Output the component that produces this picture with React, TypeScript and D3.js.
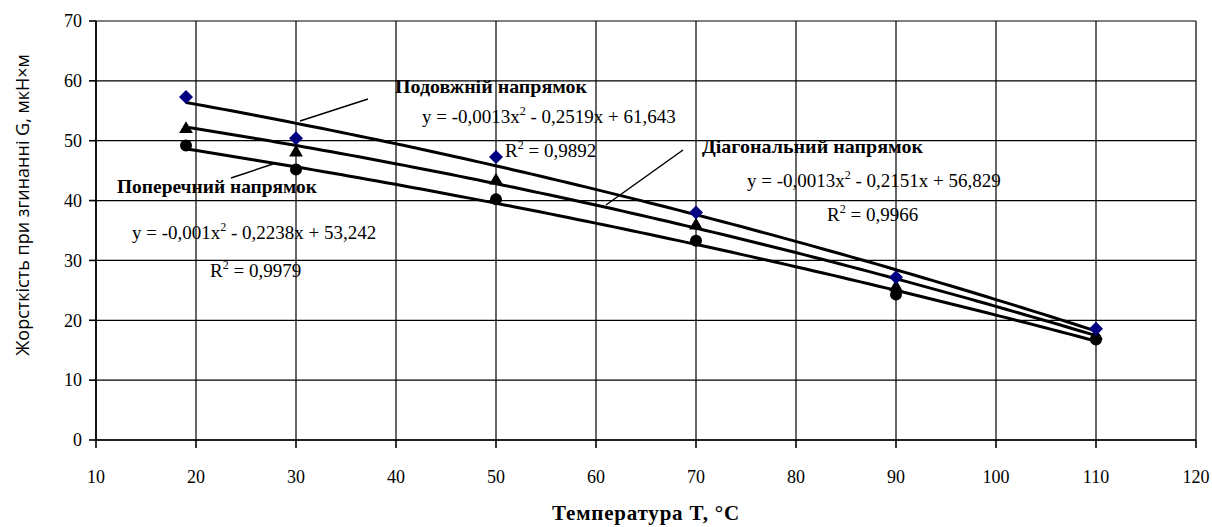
import React from "react";
import * as d3 from "d3";

const temps = [19, 30, 50, 70, 90, 110];
const longitudinal = [57.3, 50.4, 47.3, 38.0, 27.2, 18.6];
const diagonal = [52.1, 48.2, 43.5, 36.0, 25.7, 17.6];
const transverse = [49.2, 45.2, 40.2, 33.3, 24.3, 16.8];

// trendline coefficients [a, b, c] from the chart labels: y = a x^2 + b x + c
const longCoef = [-0.0013, -0.2519, 61.643];
const diagCoef = [-0.0013, -0.2151, 56.829];
const transCoef = [-0.001, -0.2238, 53.242];

const xTicks = [10, 20, 30, 40, 50, 60, 70, 80, 90, 100, 110, 120];
const yTicks = [0, 10, 20, 30, 40, 50, 60, 70];

const W = 1212;
const H = 527;
const serif = "'Liberation Serif', 'Times New Roman', serif";

export default function App() {
  const x = d3.scaleLinear().domain([10, 120]).range([96, 1196]);
  const y = d3.scaleLinear().domain([0, 70]).range([440, 21]);

  const trend = (c: number[]) => {
    const pts: [number, number][] = [];
    const x0 = temps[0];
    const x1 = temps[temps.length - 1];
    for (let i = 0; i <= 100; i++) {
      const t = x0 + ((x1 - x0) * i) / 100;
      pts.push([t, c[0] * t * t + c[1] * t + c[2]]);
    }
    return d3.line<[number, number]>().x((d) => x(d[0])).y((d) => y(d[1]))(pts) || "";
  };

  const eq = (a: string, rest: string, px: number, py: number) => (
    <text x={px} y={py} fontFamily={serif} fontSize={19} fill="#000">
      {a}
      <tspan dy={-8} fontSize={12}>2</tspan>
      <tspan dy={8}>{rest}</tspan>
    </text>
  );
  const r2 = (v: string, px: number, py: number) => (
    <text x={px} y={py} fontFamily={serif} fontSize={19} fill="#000">
      R<tspan dy={-8} fontSize={12}>2</tspan>
      <tspan dy={8}>{" = " + v}</tspan>
    </text>
  );

  const triangle = d3.symbol().type(d3.symbolTriangle).size(82)() || "";

  return (
    <svg
      width={W}
      height={H}
      style={{ position: "absolute", left: 0, top: 0, background: "#fff" }}
    >
      <rect x={0} y={0} width={W} height={H} fill="#fff" />
      {/* grid */}
      {yTicks.map((t) => (
        <line key={"gy" + t} x1={x(10)} x2={x(120)} y1={y(t)} y2={y(t)} stroke="#000" strokeWidth={1.2} />
      ))}
      {xTicks.map((t) => (
        <line key={"gx" + t} x1={x(t)} x2={x(t)} y1={y(0)} y2={y(70)} stroke="#000" strokeWidth={1.2} />
      ))}
      {/* axes */}
      <line x1={x(10)} x2={x(10)} y1={y(0)} y2={y(70)} stroke="#000" strokeWidth={1.6} />
      <line x1={x(10)} x2={x(120)} y1={y(0)} y2={y(0)} stroke="#000" strokeWidth={1.6} />
      {yTicks.map((t) => (
        <g key={"ty" + t}>
          <line x1={x(10) - 7} x2={x(10)} y1={y(t)} y2={y(t)} stroke="#000" strokeWidth={1.6} />
          <text x={x(10) - 14} y={y(t)} dy="0.35em" textAnchor="end" fontFamily={serif} fontSize={18}>
            {t}
          </text>
        </g>
      ))}
      {xTicks.map((t) => (
        <g key={"tx" + t}>
          <line x1={x(t)} x2={x(t)} y1={y(0)} y2={y(0) + 8} stroke="#000" strokeWidth={1.6} />
          <text x={x(t)} y={483} textAnchor="middle" fontFamily={serif} fontSize={18}>
            {t}
          </text>
        </g>
      ))}

      {/* trendlines */}
      <path d={trend(longCoef)} fill="none" stroke="#000" strokeWidth={3} />
      <path d={trend(diagCoef)} fill="none" stroke="#000" strokeWidth={3} />
      <path d={trend(transCoef)} fill="none" stroke="#000" strokeWidth={3} />

      {/* markers */}
      {temps.map((t, i) => (
        <circle key={"c" + i} cx={x(t)} cy={y(transverse[i])} r={6} fill="#000" />
      ))}
      {temps.map((t, i) => (
        <path key={"t" + i} d={triangle} transform={`translate(${x(t)},${y(diagonal[i]) + 1})`} fill="#000" />
      ))}
      {temps.map((t, i) => (
        <path
          key={"d" + i}
          d="M0,-7L7,0L0,7L-7,0Z"
          transform={`translate(${x(t)},${y(longitudinal[i])})`}
          fill="#000080"
        />
      ))}

      {/* leader lines */}
      <line x1={300} y1={121} x2={368} y2={99} stroke="#000" strokeWidth={1.5} />
      <line x1={231} y1={178} x2={273} y2={164} stroke="#000" strokeWidth={1.5} />
      <line x1={606} y1={205} x2={683} y2={150} stroke="#000" strokeWidth={1.5} />

      {/* annotations */}
      <text x={395} y={93} fontFamily={serif} fontWeight="bold" fontSize={19.5} textLength={192} lengthAdjust="spacingAndGlyphs">
        Подовжній напрямок
      </text>
      {eq("y = -0,0013x", " - 0,2519x + 61,643", 422, 123)}
      {r2("0,9892", 505, 157)}

      <text x={702} y={153} fontFamily={serif} fontWeight="bold" fontSize={19.5} textLength={221} lengthAdjust="spacingAndGlyphs">
        Діагональний напрямок
      </text>
      {eq("y = -0,0013x", " - 0,2151x + 56,829", 747, 187)}
      {r2("0,9966", 827, 221)}

      <text x={117} y={193} fontFamily={serif} fontWeight="bold" fontSize={19.5} textLength={200} lengthAdjust="spacingAndGlyphs">
        Поперечний напрямок
      </text>
      {eq("y = -0,001x", " - 0,2238x + 53,242", 132, 239)}
      {r2("0,9979", 210, 277)}

      {/* axis titles */}
      <text
        transform={`translate(22,205) rotate(-90)`}
        textAnchor="middle"
        dominantBaseline="central"
        fontFamily="'Open Sans', 'Noto Sans', sans-serif"
        fontSize={18}
      >
        Жорсткість при згинанні G, мкН×м
      </text>
      <text
        x={646}
        y={520}
        textAnchor="middle"
        fontFamily={serif}
        fontWeight="bold"
        fontSize={21}
        letterSpacing={0.8}
      >
        Температура T, °C
      </text>
    </svg>
  );
}
